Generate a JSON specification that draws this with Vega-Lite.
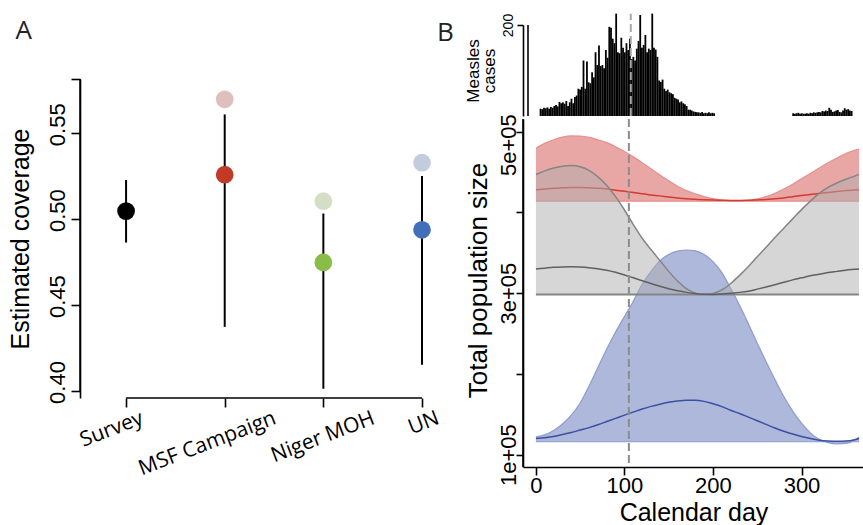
{
  "$schema": "https://vega.github.io/schema/vega-lite/v6.json",
  "background": "white",
  "padding": {"left": 8, "top": 12, "right": 0, "bottom": 0},
  "autosize": {"type": "pad"},
  "config": {
    "view": {"stroke": null},
    "axis": {"grid": false, "domain": true, "domainColor": "black", "tickColor": "black", "labelColor": "black", "titleColor": "black", "labelFont": "Liberation Sans", "titleFont": "Liberation Sans", "titleFontWeight": "normal", "domainWidth": 1.6, "tickWidth": 1.6}
  },
  "spacing": -5,
  "hconcat": [
    {
      "title": {"text": "A", "anchor": "start", "frame": "bounds", "font": "Open Sans", "fontSize": 26, "fontWeight": "normal", "color": "#222222", "offset": -19.2, "dx": 7},
      "bounds": "flush",
      "spacing": 0,
      "vconcat": [
        {"width": 342, "height": 54, "data": {"values": []}, "mark": {"type": "point"}},
        {
          "width": 342,
          "height": 319,
          "data": {"values": [
            {"source": "Survey", "est": 0.5047, "lo": 0.4864, "hi": 0.5228, "alt": null},
            {"source": "MSF Campaign", "est": 0.5259, "lo": 0.4373, "hi": 0.5610, "alt": 0.5698},
            {"source": "Niger MOH", "est": 0.4748, "lo": 0.4013, "hi": 0.5033, "alt": 0.5105},
            {"source": "UN", "est": 0.4938, "lo": 0.4153, "hi": 0.5251, "alt": 0.5329}
          ]},
          "encoding": {
            "x": {"field": "source", "type": "nominal", "sort": null, "scale": {"type": "point", "domain": ["Survey", "MSF Campaign", "Niger MOH", "UN"], "padding": 0.2335, "align": 1},
              "axis": {"title": null, "domain": false, "tickSize": 9, "labelAngle": -21, "labelAlign": "right", "labelBaseline": "top", "labelFont": "Open Sans", "labelFontSize": 21, "labelPadding": 0, "labelOverlap": false, "labelBound": false, "labelFlush": false,
                "labelOffset": {"condition": {"test": "datum.value === 'Survey' || datum.value === 'UN'", "value": 12}, "value": 46}}}
          },
          "layer": [
            {"mark": {"type": "rule", "color": "black", "strokeWidth": 2},
              "encoding": {
                "y": {"field": "lo", "type": "quantitative", "scale": {"domain": [0.39592, 0.5816], "nice": false, "zero": false},
                  "axis": {"title": "Estimated coverage", "titleFontSize": 25, "titlePadding": 12.6, "tickSize": 9, "values": [0.4, 0.45, 0.5, 0.55, 0.5816], "labelExpr": "datum.value > 0.57 ? '' : format(datum.value, '.2f')", "labelAngle": -90, "labelAlign": "center", "labelBaseline": "bottom", "labelFontSize": 22, "labelPadding": 2, "labelOffset": -9}},
                "y2": {"field": "hi"}
              }},
            {"data": {"values": [{"from": "Survey", "to": "UN", "base": 0.39592}]},
              "mark": {"type": "rule", "color": "black", "strokeWidth": 1.6},
              "encoding": {
                "x": {"field": "from", "type": "nominal", "title": null},
                "x2": {"field": "to"},
                "y": {"field": "base", "type": "quantitative"}
              }},
            {"data": {"values": [{"source": "Survey", "y0": 0.40, "y1": 0.5816}]},
              "mark": {"type": "rule", "color": "black", "strokeWidth": 1.6, "xOffset": -46},
              "encoding": {
                "x": {"field": "source", "type": "nominal", "title": null},
                "y": {"field": "y0", "type": "quantitative"},
                "y2": {"field": "y1"}
              }},
            {"transform": [{"filter": "isValid(datum.alt)"}],
              "mark": {"type": "circle", "size": 314, "opacity": 1, "strokeWidth": 0},
              "encoding": {
                "y": {"field": "alt", "type": "quantitative"},
                "fill": {"field": "source", "type": "nominal", "legend": null, "scale": {"domain": ["MSF Campaign", "Niger MOH", "UN"], "range": ["#DEBFBD", "#D3DEC5", "#C3CCDE"]}}
              }},
            {"mark": {"type": "circle", "size": 314, "opacity": 1},
              "encoding": {
                "y": {"field": "est", "type": "quantitative"},
                "color": {"field": "source", "type": "nominal", "legend": null, "scale": {"domain": ["Survey", "MSF Campaign", "Niger MOH", "UN"], "range": ["#000000", "#C23A26", "#88BE48", "#4170BA"]}}
              }}
          ]
        }
      ]
    },
    {
      "title": {"text": "B", "anchor": "start", "frame": "bounds", "font": "Open Sans", "fontSize": 26, "fontWeight": "normal", "color": "#222222", "offset": -33, "dx": -27},
      "bounds": "flush",
      "spacing": 3,
      "vconcat": [
        {
          "width": 341,
          "height": 91,
          "layer": [
            {
              "data": {"values": [
                {"day":0,"cases":16},{"day":2,"cases":15},{"day":4,"cases":18},{"day":6,"cases":17},{"day":8,"cases":19},{"day":10,"cases":16},{"day":12,"cases":20},{"day":14,"cases":18},{"day":16,"cases":22},{"day":18,"cases":24},
                {"day":20,"cases":21},{"day":22,"cases":31},{"day":24,"cases":28},{"day":26,"cases":30},{"day":28,"cases":27},{"day":30,"cases":33},{"day":32,"cases":22},{"day":34,"cases":30},{"day":36,"cases":38},{"day":38,"cases":28},
                {"day":40,"cases":42},{"day":42,"cases":45},{"day":44,"cases":60},{"day":46,"cases":58},{"day":48,"cases":64},{"day":50,"cases":122},{"day":52,"cases":60},{"day":54,"cases":120},{"day":56,"cases":74},{"day":58,"cases":72},
                {"day":60,"cases":96},{"day":62,"cases":85},{"day":64,"cases":140},{"day":66,"cases":112},{"day":68,"cases":155},{"day":70,"cases":110},{"day":72,"cases":112},{"day":74,"cases":105},{"day":76,"cases":145},{"day":78,"cases":128},
                {"day":80,"cases":196},{"day":82,"cases":194},{"day":84,"cases":170},{"day":86,"cases":160},{"day":88,"cases":225},{"day":90,"cases":140},{"day":92,"cases":138},{"day":94,"cases":172},{"day":96,"cases":150},{"day":98,"cases":140},
                {"day":100,"cases":160},{"day":102,"cases":145},{"day":104,"cases":170},{"day":106,"cases":125},{"day":108,"cases":130},{"day":110,"cases":122},{"day":112,"cases":148},{"day":114,"cases":165},{"day":116,"cases":222},{"day":118,"cases":150},
                {"day":120,"cases":156},{"day":122,"cases":178},{"day":124,"cases":140},{"day":126,"cases":148},{"day":128,"cases":145},{"day":130,"cases":225},{"day":132,"cases":150},{"day":134,"cases":146},{"day":136,"cases":130},{"day":138,"cases":78},
                {"day":140,"cases":75},{"day":142,"cases":80},{"day":144,"cases":60},{"day":146,"cases":55},{"day":148,"cases":58},{"day":150,"cases":52},{"day":152,"cases":50},{"day":154,"cases":48},{"day":156,"cases":40},{"day":158,"cases":38},
                {"day":160,"cases":36},{"day":162,"cases":30},{"day":164,"cases":32},{"day":166,"cases":28},{"day":168,"cases":26},{"day":170,"cases":22},{"day":172,"cases":14},{"day":174,"cases":14},{"day":176,"cases":12},{"day":178,"cases":10},
                {"day":180,"cases":9},{"day":182,"cases":8},{"day":184,"cases":8},{"day":186,"cases":7},{"day":188,"cases":9},{"day":190,"cases":6},{"day":192,"cases":7},{"day":194,"cases":6},{"day":196,"cases":8},{"day":198,"cases":6},
                {"day":200,"cases":7},{"day":202,"cases":6},
                {"day":294,"cases":6},{"day":296,"cases":5},{"day":298,"cases":6},{"day":300,"cases":7},{"day":302,"cases":5},{"day":304,"cases":6},{"day":306,"cases":5},{"day":308,"cases":5},{"day":310,"cases":6},{"day":312,"cases":5},
                {"day":314,"cases":7},{"day":316,"cases":6},{"day":318,"cases":8},{"day":320,"cases":7},{"day":322,"cases":8},{"day":324,"cases":9},{"day":326,"cases":8},{"day":328,"cases":11},{"day":330,"cases":10},{"day":332,"cases":12},
                {"day":334,"cases":11},{"day":336,"cases":18},{"day":338,"cases":14},{"day":340,"cases":9},{"day":342,"cases":10},{"day":344,"cases":12},{"day":346,"cases":13},{"day":348,"cases":9},{"day":350,"cases":8},{"day":352,"cases":12},
                {"day":354,"cases":17},{"day":356,"cases":14},{"day":358,"cases":15},{"day":360,"cases":12},{"day":362,"cases":11}
              ]},
              "mark": {"type": "bar", "color": "black", "size": 1.8},
              "encoding": {
                "x": {"field": "day", "type": "quantitative", "scale": {"domain": [-14.6, 370.6], "nice": false, "zero": false}, "axis": null},
                "y": {"field": "cases", "type": "quantitative", "scale": {"domain": [0, 200], "nice": false},
                  "axis": {"title": ["Measles", "cases"], "titleFontSize": 17, "titleLineHeight": 16, "titlePadding": 3, "values": [200], "tickSize": 6, "labelAngle": -90, "labelAlign": "center", "labelBaseline": "bottom", "labelFontSize": 14, "labelPadding": 2}}
              }
            },
            {
              "data": {"values": [{"day": 105}]},
              "mark": {"type": "rule", "color": "#A8A8A8", "strokeDash": [8, 4], "strokeWidth": 2},
              "encoding": {
                "x": {"field": "day", "type": "quantitative"},
                "y": {"datum": 0},
                "y2": {"datum": 225}
              }
            },
            {
              "data": {"values": [{"day": -14.6}]},
              "mark": {"type": "rule", "color": "black", "strokeWidth": 1.6},
              "encoding": {
                "x": {"field": "day", "type": "quantitative"},
                "y": {"datum": 0},
                "y2": {"datum": 200}
              }
            }
          ]
        },
        {
          "width": 341,
          "height": 348,
          "data": {"values": [
            {"s":"red","day":0,"hi":479500,"mid":428000,"lo":414000},{"s":"red","day":10,"hi":485500,"mid":429000,"lo":414000},{"s":"red","day":20,"hi":490000,"mid":430000,"lo":414000},{"s":"red","day":30,"hi":493200,"mid":430500,"lo":414000},{"s":"red","day":40,"hi":494700,"mid":431000,"lo":414000},
            {"s":"red","day":50,"hi":494500,"mid":431000,"lo":414000},{"s":"red","day":60,"hi":493000,"mid":430500,"lo":414000},{"s":"red","day":70,"hi":490000,"mid":430000,"lo":414000},{"s":"red","day":80,"hi":486500,"mid":429000,"lo":414000},{"s":"red","day":90,"hi":481400,"mid":427500,"lo":414000},
            {"s":"red","day":100,"hi":475500,"mid":426200,"lo":414000},{"s":"red","day":110,"hi":468800,"mid":424700,"lo":414000},{"s":"red","day":120,"hi":461600,"mid":423000,"lo":414000},{"s":"red","day":130,"hi":454000,"mid":421700,"lo":414000},{"s":"red","day":140,"hi":446500,"mid":420500,"lo":414000},
            {"s":"red","day":150,"hi":439300,"mid":419200,"lo":414000},{"s":"red","day":160,"hi":432500,"mid":418000,"lo":414000},{"s":"red","day":170,"hi":427000,"mid":417000,"lo":414000},{"s":"red","day":180,"hi":423200,"mid":416300,"lo":414000},{"s":"red","day":190,"hi":419500,"mid":415700,"lo":414000},
            {"s":"red","day":200,"hi":417000,"mid":415300,"lo":414000},{"s":"red","day":210,"hi":415300,"mid":415000,"lo":414000},{"s":"red","day":220,"hi":414700,"mid":414800,"lo":414000},{"s":"red","day":230,"hi":414500,"mid":414800,"lo":414000},{"s":"red","day":240,"hi":415100,"mid":415000,"lo":414000},
            {"s":"red","day":250,"hi":416800,"mid":415500,"lo":414000},{"s":"red","day":260,"hi":419500,"mid":416000,"lo":414000},{"s":"red","day":270,"hi":423800,"mid":417000,"lo":414000},{"s":"red","day":280,"hi":429000,"mid":418000,"lo":414000},{"s":"red","day":290,"hi":435000,"mid":419500,"lo":414000},
            {"s":"red","day":300,"hi":441700,"mid":421000,"lo":414000},{"s":"red","day":310,"hi":448300,"mid":422200,"lo":414000},{"s":"red","day":320,"hi":455000,"mid":423500,"lo":414000},{"s":"red","day":330,"hi":461600,"mid":424800,"lo":414000},{"s":"red","day":340,"hi":467500,"mid":426000,"lo":414000},
            {"s":"red","day":350,"hi":473000,"mid":427000,"lo":414000},{"s":"red","day":360,"hi":477000,"mid":427800,"lo":414000},{"s":"red","day":365,"hi":478500,"mid":428000,"lo":414000},
            {"s":"grey","day":0,"hi":447000,"mid":330000,"lo":298300},{"s":"grey","day":10,"hi":451500,"mid":331000,"lo":298300},{"s":"grey","day":20,"hi":455000,"mid":332000,"lo":298300},{"s":"grey","day":30,"hi":457300,"mid":332500,"lo":298300},{"s":"grey","day":40,"hi":458000,"mid":332700,"lo":298300},
            {"s":"grey","day":50,"hi":456500,"mid":332300,"lo":298300},{"s":"grey","day":60,"hi":452000,"mid":331500,"lo":298300},{"s":"grey","day":70,"hi":444000,"mid":330200,"lo":298300},{"s":"grey","day":80,"hi":433500,"mid":328500,"lo":298300},{"s":"grey","day":90,"hi":419500,"mid":325800,"lo":298300},
            {"s":"grey","day":100,"hi":403000,"mid":322500,"lo":298300},{"s":"grey","day":110,"hi":385000,"mid":319000,"lo":298300},{"s":"grey","day":120,"hi":368000,"mid":315500,"lo":298300},{"s":"grey","day":130,"hi":354000,"mid":312000,"lo":298300},{"s":"grey","day":140,"hi":340500,"mid":308500,"lo":298300},
            {"s":"grey","day":150,"hi":327000,"mid":305500,"lo":298300},{"s":"grey","day":160,"hi":315000,"mid":303000,"lo":298300},{"s":"grey","day":170,"hi":305500,"mid":301000,"lo":298300},{"s":"grey","day":180,"hi":300000,"mid":299500,"lo":298300},{"s":"grey","day":190,"hi":298300,"mid":298600,"lo":298300},
            {"s":"grey","day":200,"hi":299500,"mid":298500,"lo":298300},{"s":"grey","day":210,"hi":304000,"mid":299000,"lo":298300},{"s":"grey","day":220,"hi":312000,"mid":300000,"lo":298300},{"s":"grey","day":230,"hi":322000,"mid":301000,"lo":298300},{"s":"grey","day":240,"hi":333000,"mid":302500,"lo":298300},
            {"s":"grey","day":250,"hi":345000,"mid":305000,"lo":298300},{"s":"grey","day":260,"hi":357000,"mid":307700,"lo":298300},{"s":"grey","day":270,"hi":369000,"mid":310500,"lo":298300},{"s":"grey","day":280,"hi":380500,"mid":313500,"lo":298300},{"s":"grey","day":290,"hi":392000,"mid":316500,"lo":298300},
            {"s":"grey","day":300,"hi":403500,"mid":319000,"lo":298300},{"s":"grey","day":310,"hi":414000,"mid":321500,"lo":298300},{"s":"grey","day":320,"hi":423500,"mid":323500,"lo":298300},{"s":"grey","day":330,"hi":431000,"mid":325500,"lo":298300},{"s":"grey","day":340,"hi":436500,"mid":327000,"lo":298300},
            {"s":"grey","day":350,"hi":441000,"mid":328500,"lo":298300},{"s":"grey","day":360,"hi":445000,"mid":329500,"lo":298300},{"s":"grey","day":365,"hi":447000,"mid":330000,"lo":298300},
            {"s":"blue","day":0,"hi":122000,"mid":120000,"lo":116000},{"s":"blue","day":10,"hi":124500,"mid":121000,"lo":116000},{"s":"blue","day":20,"hi":130000,"mid":122500,"lo":116000},{"s":"blue","day":30,"hi":138000,"mid":125000,"lo":116000},{"s":"blue","day":40,"hi":149000,"mid":127500,"lo":116000},
            {"s":"blue","day":50,"hi":164000,"mid":130500,"lo":116000},{"s":"blue","day":60,"hi":185000,"mid":133500,"lo":116000},{"s":"blue","day":70,"hi":208000,"mid":137000,"lo":116000},{"s":"blue","day":80,"hi":231000,"mid":141000,"lo":116000},{"s":"blue","day":90,"hi":252000,"mid":145000,"lo":116000},
            {"s":"blue","day":100,"hi":271000,"mid":149000,"lo":116000},{"s":"blue","day":110,"hi":290000,"mid":152800,"lo":116000},{"s":"blue","day":120,"hi":311000,"mid":156500,"lo":116000},{"s":"blue","day":130,"hi":327000,"mid":159800,"lo":116000},{"s":"blue","day":140,"hi":340000,"mid":162500,"lo":116000},
            {"s":"blue","day":150,"hi":348000,"mid":164800,"lo":116000},{"s":"blue","day":160,"hi":352000,"mid":166500,"lo":116000},{"s":"blue","day":170,"hi":353500,"mid":167400,"lo":116000},{"s":"blue","day":180,"hi":352500,"mid":167400,"lo":116000},{"s":"blue","day":190,"hi":348000,"mid":166000,"lo":116000},
            {"s":"blue","day":200,"hi":339000,"mid":163000,"lo":116000},{"s":"blue","day":210,"hi":325500,"mid":159500,"lo":116000},{"s":"blue","day":220,"hi":306000,"mid":155000,"lo":116000},{"s":"blue","day":230,"hi":285000,"mid":151000,"lo":116000},{"s":"blue","day":240,"hi":262000,"mid":146500,"lo":116000},
            {"s":"blue","day":250,"hi":238000,"mid":142000,"lo":116000},{"s":"blue","day":260,"hi":215000,"mid":137500,"lo":116000},{"s":"blue","day":270,"hi":193000,"mid":133000,"lo":116000},{"s":"blue","day":280,"hi":172000,"mid":129000,"lo":116000},{"s":"blue","day":290,"hi":154000,"mid":125500,"lo":116000},
            {"s":"blue","day":300,"hi":139000,"mid":122500,"lo":116000},{"s":"blue","day":310,"hi":127000,"mid":120000,"lo":116000},{"s":"blue","day":320,"hi":119000,"mid":118000,"lo":116000},{"s":"blue","day":330,"hi":115000,"mid":117000,"lo":116000},{"s":"blue","day":340,"hi":113500,"mid":116500,"lo":116000},
            {"s":"blue","day":350,"hi":114000,"mid":116800,"lo":116000},{"s":"blue","day":360,"hi":118000,"mid":118500,"lo":116000},{"s":"blue","day":365,"hi":122000,"mid":120000,"lo":116000}
          ]},
          "encoding": {
            "x": {"field": "day", "type": "quantitative", "scale": {"domain": [-14.6, 370.6], "nice": false, "zero": false},
              "axis": {"title": "Calendar day", "titleFontSize": 25, "titlePadding": 4.4, "values": [0, 100, 200, 300], "tickSize": 8, "labelFontSize": 22, "labelPadding": 0}}
          },
          "layer": [
            {"transform": [{"filter": "datum.s === 'red'"}], "mark": {"type": "area", "color": "#E8A7A4", "interpolate": "monotone"},
              "encoding": {
                "y": {"field": "hi", "type": "quantitative", "scale": {"domain": [84750, 515700], "nice": false, "zero": false},
                  "axis": {"title": "Total population size", "titleFontSize": 26, "titlePadding": 5.6, "titleY": 161, "values": [100000, 200000, 300000, 400000, 500000], "labelExpr": "datum.value === 100000 ? '1e+05' : datum.value === 300000 ? '3e+05' : datum.value === 500000 ? '5e+05' : ''", "tickSize": 7, "labelAngle": -90, "labelAlign": "center", "labelBaseline": "bottom", "labelFontSize": 22, "labelPadding": -4, "labelOffset": {"condition": {"test": "datum.value === 500000", "value": 13}, "value": 0}}},
                "y2": {"field": "lo"}
              }},
            {"transform": [{"filter": "datum.s === 'red'"}], "mark": {"type": "line", "color": "#E98E8C", "strokeWidth": 1.2, "interpolate": "monotone"}, "encoding": {"y": {"field": "hi", "type": "quantitative"}}},
            {"transform": [{"filter": "datum.s === 'red'"}], "mark": {"type": "line", "color": "#E98E8C", "strokeWidth": 1.2}, "encoding": {"y": {"field": "lo", "type": "quantitative"}}},
            {"transform": [{"filter": "datum.s === 'red'"}], "mark": {"type": "line", "color": "#D33A32", "strokeWidth": 1.5, "interpolate": "monotone"}, "encoding": {"y": {"field": "mid", "type": "quantitative"}}},
            {"transform": [{"filter": "datum.s === 'blue'"}], "mark": {"type": "area", "color": "#ADB8DA", "interpolate": "monotone"}, "encoding": {"y": {"field": "hi", "type": "quantitative"}, "y2": {"field": "lo"}}},
            {"transform": [{"filter": "datum.s === 'blue'"}], "mark": {"type": "line", "color": "#8C9BD2", "strokeWidth": 1.2, "interpolate": "monotone"}, "encoding": {"y": {"field": "hi", "type": "quantitative"}}},
            {"transform": [{"filter": "datum.s === 'blue'"}], "mark": {"type": "line", "color": "#8C9BD2", "strokeWidth": 1.2}, "encoding": {"y": {"field": "lo", "type": "quantitative"}}},
            {"transform": [{"filter": "datum.s === 'blue'"}], "mark": {"type": "line", "color": "#3C4FA3", "strokeWidth": 1.5, "interpolate": "monotone"}, "encoding": {"y": {"field": "mid", "type": "quantitative"}}},
            {"transform": [{"filter": "datum.s === 'grey'"}], "mark": {"type": "area", "color": "#ADADAD", "opacity": 0.5, "interpolate": "monotone"}, "encoding": {"y": {"field": "hi", "type": "quantitative"}, "y2": {"field": "lo"}}},
            {"transform": [{"filter": "datum.s === 'grey'"}], "mark": {"type": "line", "color": "#858585", "strokeWidth": 1.5, "interpolate": "monotone"}, "encoding": {"y": {"field": "hi", "type": "quantitative"}}},
            {"transform": [{"filter": "datum.s === 'grey'"}], "mark": {"type": "line", "color": "#858585", "strokeWidth": 2}, "encoding": {"y": {"field": "lo", "type": "quantitative"}}},
            {"transform": [{"filter": "datum.s === 'grey'"}], "mark": {"type": "line", "color": "#606060", "strokeWidth": 1.5, "interpolate": "monotone"}, "encoding": {"y": {"field": "mid", "type": "quantitative"}}},
            {"data": {"values": [{"day": 105}]}, "mark": {"type": "rule", "color": "#8C8C8C", "strokeDash": [8, 4], "strokeWidth": 2}, "encoding": {"x": {"field": "day", "type": "quantitative"}}},
            {"data": {"values": [{"top": 515700}]}, "mark": {"type": "rule", "color": "black", "strokeWidth": 1.6}, "encoding": {"y": {"field": "top", "type": "quantitative"}}},
            {"data": {"values": [{"day": -14.6}]}, "mark": {"type": "rule", "color": "black", "strokeWidth": 1.6}, "encoding": {"x": {"field": "day", "type": "quantitative"}}},
            {"data": {"values": [{"bottom": 84750}]}, "mark": {"type": "rule", "color": "black", "strokeWidth": 1.6}, "encoding": {"y": {"field": "bottom", "type": "quantitative"}}}
          ]
        }
      ]
    }
  ]
}
